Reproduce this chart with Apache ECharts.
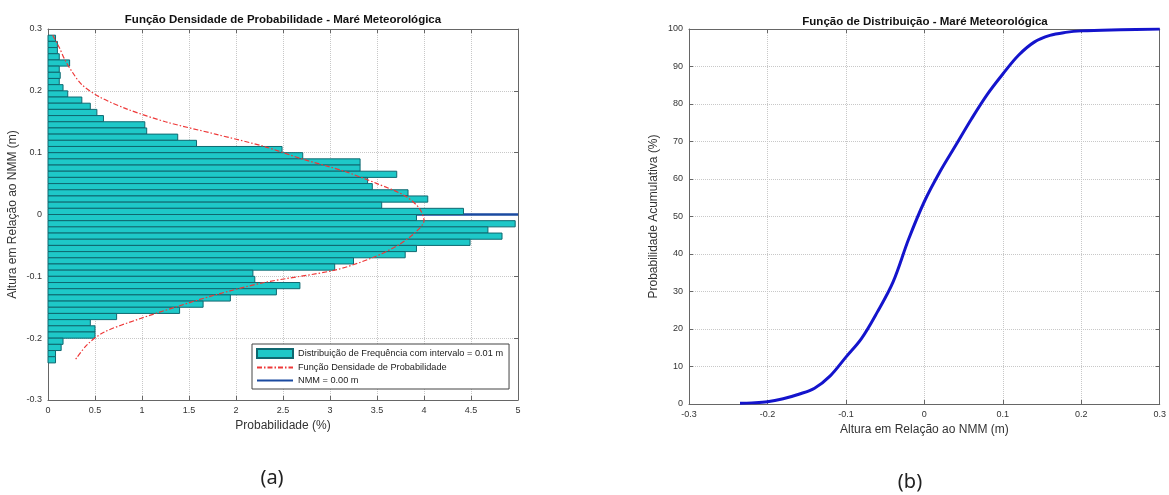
<!DOCTYPE html>
<html><head><meta charset="utf-8">
<script src="https://cdn.jsdelivr.net/npm/echarts@6/dist/echarts.min.js"></script>
<style>html,body{margin:0;padding:0;background:#fff}#c{width:1169px;height:495px}</style>
</head><body><div id="c"></div>
<script>
// ---- data ----
// lower edge of each 0.01 m height class (m)
const binLow = [0.28,0.27,0.26,0.25,0.24,0.23,0.22,0.21,0.20,0.19,0.18,0.17,0.16,0.15,0.14,0.13,0.12,0.11,0.10,0.09,
  0.08,0.07,0.06,0.05,0.04,0.03,0.02,0.01,0.00,-0.01,-0.02,-0.03,-0.04,-0.05,-0.06,-0.07,-0.08,-0.09,-0.10,-0.11,
  -0.12,-0.13,-0.14,-0.15,-0.16,-0.17,-0.18,-0.19,-0.20,-0.21,-0.22,-0.23,-0.24];
// frequency of each class (%)
const binFreq = [0.08,0.10,0.10,0.12,0.23,0.12,0.13,0.12,0.16,0.21,0.36,0.45,0.52,0.59,1.03,1.05,1.38,1.58,2.49,2.71,
  3.32,3.32,3.71,3.40,3.45,3.83,4.04,3.55,4.42,3.92,4.97,4.68,4.83,4.49,3.92,3.80,3.25,3.05,2.18,2.20,
  2.68,2.43,1.94,1.65,1.40,0.73,0.45,0.50,0.50,0.16,0.14,0.08,0.08];
const binWidth = 0.01;
// probability density curve: height (m) and probability (%)
const pdfHeight = [0.29,0.27,0.25,0.23,0.21,0.19,0.17,0.15,0.13,0.11,0.09,0.07,0.05,0.03,0.01,-0.01,-0.03,-0.05,-0.07,-0.09,-0.11,-0.13,-0.15,-0.17,-0.19,-0.21,-0.235];
const pdfProb   = [0.05,0.12,0.18,0.26,0.36,0.55,0.85,1.25,1.78,2.30,2.70,3.15,3.50,3.80,3.95,4.00,3.90,3.72,3.45,3.05,2.30,1.78,1.35,0.95,0.60,0.42,0.29];
// mean sea level line
const nmmLevel = 0.00;
const nmmSpan = [0, 5];
// cumulative distribution curve: height (m) and cumulative probability (%)
const cdfHeight = [-0.235,-0.22,-0.20,-0.18,-0.16,-0.14,-0.12,-0.10,-0.08,-0.06,-0.04,-0.02,0.00,0.02,0.04,0.06,0.08,0.10,0.12,0.14,0.16,0.18,0.20,0.25,0.30];
const cdfProb   = [0.2,0.3,0.6,1.4,2.6,4.2,7.5,12.5,17.5,24.5,32.5,44,54,62,69,76,82.5,88,93,96.5,98.3,99.1,99.5,99.8,100];

const titleA = 'Função Densidade de Probabilidade - Maré Meteorológica';
const titleB = 'Função de Distribuição - Maré Meteorológica';
const nameHist = 'Distribuição de Frequência com intervalo = 0.01 m';
const namePdf = 'Função Densidade de Probabilidade';
const nameNmm = 'NMM = 0.00 m';

// ---- chart ----
const FF = 'Liberation Sans, Arial, sans-serif';
const chart = echarts.init(document.getElementById('c'), null, {renderer:'canvas'});

function mainAxis(extra){
  return Object.assign({
    type:'value',
    axisLine:{show:true, onZero:false, lineStyle:{color:'#666', width:1}},
    axisTick:{show:true, inside:true, length:4, lineStyle:{color:'#666'}},
    axisLabel:{fontSize:9, color:'#333', fontFamily:FF, margin:6},
    splitLine:{show:true, lineStyle:{color:'#c8c8c8', type:'dotted', width:1}},
    nameTextStyle:{fontSize:12, color:'#333', fontFamily:FF},
    nameLocation:'middle'
  }, extra);
}
function mirrorAxis(extra){
  return Object.assign({
    type:'value',
    axisLine:{show:true, onZero:false, lineStyle:{color:'#666', width:1}},
    axisTick:{show:true, inside:true, length:4, lineStyle:{color:'#666'}},
    axisLabel:{show:false},
    splitLine:{show:false}
  }, extra);
}

const histData = binLow.map((lo,i)=>[lo, lo+binWidth, binFreq[i]]);
const hideSymbol = {color:'rgba(0,0,0,0)', borderWidth:0, opacity:0};

const option = {
  animation:false,
  backgroundColor:'#fff',
  grid:[
    {left:48, right:651, top:29, bottom:95},
    {left:689, right:6, top:29, bottom:91}
  ],
  xAxis:[
    mainAxis({gridIndex:0, min:0, max:5, interval:0.5, name:'Probabilidade (%)', nameGap:19}),
    mirrorAxis({gridIndex:0, position:'top', min:0, max:5, interval:0.5}),
    mainAxis({gridIndex:1, min:-0.3, max:0.3, interval:0.1, name:'Altura em Relação ao NMM (m)', nameGap:20}),
    mirrorAxis({gridIndex:1, position:'top', min:-0.3, max:0.3, interval:0.1})
  ],
  yAxis:[
    mainAxis({gridIndex:0, min:-0.3, max:0.3, interval:0.1, name:'Altura em Relação ao NMM (m)', nameGap:29}),
    mirrorAxis({gridIndex:0, position:'right', min:-0.3, max:0.3, interval:0.1}),
    mainAxis({gridIndex:1, min:0, max:100, interval:10, name:'Probabilidade Acumulativa (%)', nameGap:29}),
    mirrorAxis({gridIndex:1, position:'right', min:0, max:100, interval:10})
  ],
  legend:{
    left:252, top:344, orient:'vertical',
    itemWidth:36, itemHeight:9, itemGap:4,
    borderColor:'#444', borderWidth:1, borderRadius:0, padding:[4,6,4,4],
    backgroundColor:'#fff',
    textStyle:{fontSize:9.2, color:'#222', fontFamily:FF},
    data:[
      {name:nameHist, icon:'rect'},
      {name:namePdf, itemStyle:hideSymbol},
      {name:nameNmm, itemStyle:hideSymbol}
    ]
  },
  series:[
    {
      name:nameNmm, type:'line', xAxisIndex:0, yAxisIndex:0,
      data:nmmSpan.map(x=>[x, nmmLevel]),
      symbol:'none',
      lineStyle:{color:'#1a4aa0', width:2.5},
      itemStyle:{color:'#1a4aa0'},
      z:1
    },
    {
      name:nameHist, type:'custom', xAxisIndex:0, yAxisIndex:0,
      itemStyle:{color:'#1ec8c8', borderColor:'#0f6870', borderWidth:1},
      encode:{x:2, y:[0,1]},
      data:histData,
      renderItem:function(params, api){
        const lo = api.value(0), hi = api.value(1), v = api.value(2);
        const p1 = api.coord([0, hi]);
        const p2 = api.coord([v, lo]);
        return {
          type:'rect',
          shape:{x:p1[0], y:p1[1], width:p2[0]-p1[0], height:p2[1]-p1[1]},
          style:{fill:'#1ec8c8', stroke:'#0f6870', lineWidth:1}
        };
      },
      z:2
    },
    {
      name:namePdf, type:'line', xAxisIndex:0, yAxisIndex:0,
      data:pdfHeight.map((h,i)=>[pdfProb[i], h]),
      symbol:'none', smooth:0.3,
      lineStyle:{color:'#ee3838', width:1.2, type:[5,2,1.5,2]},
      itemStyle:{color:'#ee3838'},
      z:4
    },
    {
      name:'cdf', type:'line', xAxisIndex:2, yAxisIndex:2,
      data:cdfHeight.map((h,i)=>[h, cdfProb[i]]),
      symbol:'none', smooth:0.35,
      lineStyle:{color:'#1414cc', width:3},
      z:3
    }
  ],
  graphic:[
    {type:'text', x:283, y:20, style:{text:titleA, font:'bold 11.5px '+FF, fill:'#111', textAlign:'center', textVerticalAlign:'middle'}},
    {type:'text', x:925, y:22, style:{text:titleB, font:'bold 11.5px '+FF, fill:'#111', textAlign:'center', textVerticalAlign:'middle'}},
    {type:'text', x:272, y:478, style:{text:'(a)', font:'20px Noto Sans, sans-serif', fill:'#222', textAlign:'center', textVerticalAlign:'middle'}},
    {type:'text', x:910, y:482, style:{text:'(b)', font:'20px Noto Sans, sans-serif', fill:'#222', textAlign:'center', textVerticalAlign:'middle'}}
  ]
};
chart.setOption(option);
</script>
</body></html>
